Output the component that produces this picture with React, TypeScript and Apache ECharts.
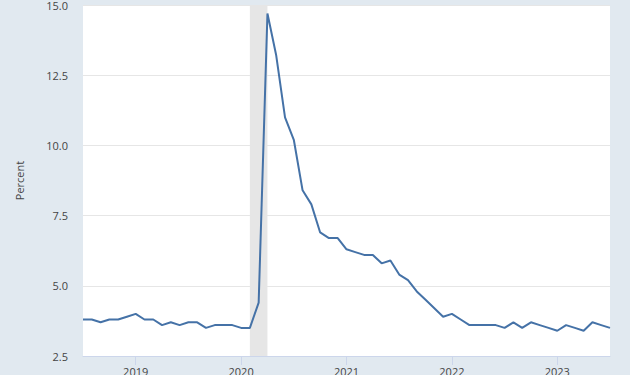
import React, { useEffect, useRef } from "react";
import * as echarts from "echarts";

const months: string[] = [
  "2018-07", "2018-08", "2018-09", "2018-10", "2018-11", "2018-12",
  "2019-01", "2019-02", "2019-03", "2019-04", "2019-05", "2019-06",
  "2019-07", "2019-08", "2019-09", "2019-10", "2019-11", "2019-12",
  "2020-01", "2020-02", "2020-03", "2020-04", "2020-05", "2020-06",
  "2020-07", "2020-08", "2020-09", "2020-10", "2020-11", "2020-12",
  "2021-01", "2021-02", "2021-03", "2021-04", "2021-05", "2021-06",
  "2021-07", "2021-08", "2021-09", "2021-10", "2021-11", "2021-12",
  "2022-01", "2022-02", "2022-03", "2022-04", "2022-05", "2022-06",
  "2022-07", "2022-08", "2022-09", "2022-10", "2022-11", "2022-12",
  "2023-01", "2023-02", "2023-03", "2023-04", "2023-05", "2023-06",
  "2023-07",
];

const rate2018: number[] = [3.8, 3.8, 3.7, 3.8, 3.8, 3.9];
const rate2019: number[] = [4.0, 3.8, 3.8, 3.6, 3.7, 3.6, 3.7, 3.7, 3.5, 3.6, 3.6, 3.6];
const rate2020: number[] = [3.5, 3.5, 4.4, 14.7, 13.2, 11.0, 10.2, 8.4, 7.9, 6.9, 6.7, 6.7];
const rate2021: number[] = [6.3, 6.2, 6.1, 6.1, 5.8, 5.9, 5.4, 5.2, 4.8, 4.5, 4.2, 3.9];
const rate2022: number[] = [4.0, 3.8, 3.6, 3.6, 3.6, 3.6, 3.5, 3.7, 3.5, 3.7, 3.6, 3.5];
const rate2023: number[] = [3.4, 3.6, 3.5, 3.4, 3.7, 3.6, 3.5];

const recessionStart = "2020-02";
const recessionEnd = "2020-04";

const yTicks = { min: 2.5, max: 15, interval: 2.5 };

export default function App() {
  const ref = useRef<HTMLDivElement>(null);

  useEffect(() => {
    if (!ref.current) return;
    const chart = echarts.init(ref.current, undefined, { renderer: "svg" });
    const values = [...rate2018, ...rate2019, ...rate2020, ...rate2021, ...rate2022, ...rate2023];
    const isJan = (_i: number, v: string) => v.endsWith("-01");
    const font = "'Open Sans', 'Noto Sans', sans-serif";

    chart.setOption({
      animation: false,
      backgroundColor: "#e1e9f0",
      textStyle: { fontFamily: font },
      grid: {
        left: 83,
        right: 20,
        top: 5,
        bottom: 19,
        show: true,
        backgroundColor: "#ffffff",
        borderWidth: 0,
        containLabel: false,
        outerBoundsMode: "none",
      },
      xAxis: {
        type: "category",
        data: months,
        boundaryGap: false,
        axisLine: { show: true, lineStyle: { color: "#ccd6eb", width: 1 } },
        axisTick: { show: true, interval: isJan, length: 9, lineStyle: { color: "#ccd6eb" } },
        axisLabel: {
          interval: isJan,
          margin: 10,
          color: "#444",
          fontSize: 11,
          fontFamily: font,
          formatter: (v: string) => v.slice(0, 4),
        },
        splitLine: { show: false },
      },
      yAxis: {
        type: "value",
        min: yTicks.min,
        max: yTicks.max,
        interval: yTicks.interval,
        name: "Percent",
        nameLocation: "middle",
        nameGap: 58,
        nameTextStyle: { color: "#444", fontSize: 11, fontFamily: font },
        axisLine: { show: false },
        axisTick: { show: false },
        axisLabel: {
          margin: 15,
          color: "#444",
          fontSize: 11,
          fontFamily: font,
          formatter: (v: number) => v.toFixed(1),
        },
        splitLine: { show: true, lineStyle: { color: "#e6e6e6", width: 1 } },
      },
      series: [
        {
          type: "line",
          data: values,
          showSymbol: false,
          symbol: "none",
          lineStyle: { color: "#4572a7", width: 2 },
          itemStyle: { color: "#4572a7" },
          markArea: {
            silent: true,
            itemStyle: { color: "#e6e6e6" },
            data: [[{ xAxis: recessionStart }, { xAxis: recessionEnd }]],
          },
        },
      ],
    });

    return () => chart.dispose();
  }, []);

  return (
    <div
      ref={ref}
      style={{ position: "fixed", left: 0, top: 0, width: 630, height: 375 }}
    />
  );
}
